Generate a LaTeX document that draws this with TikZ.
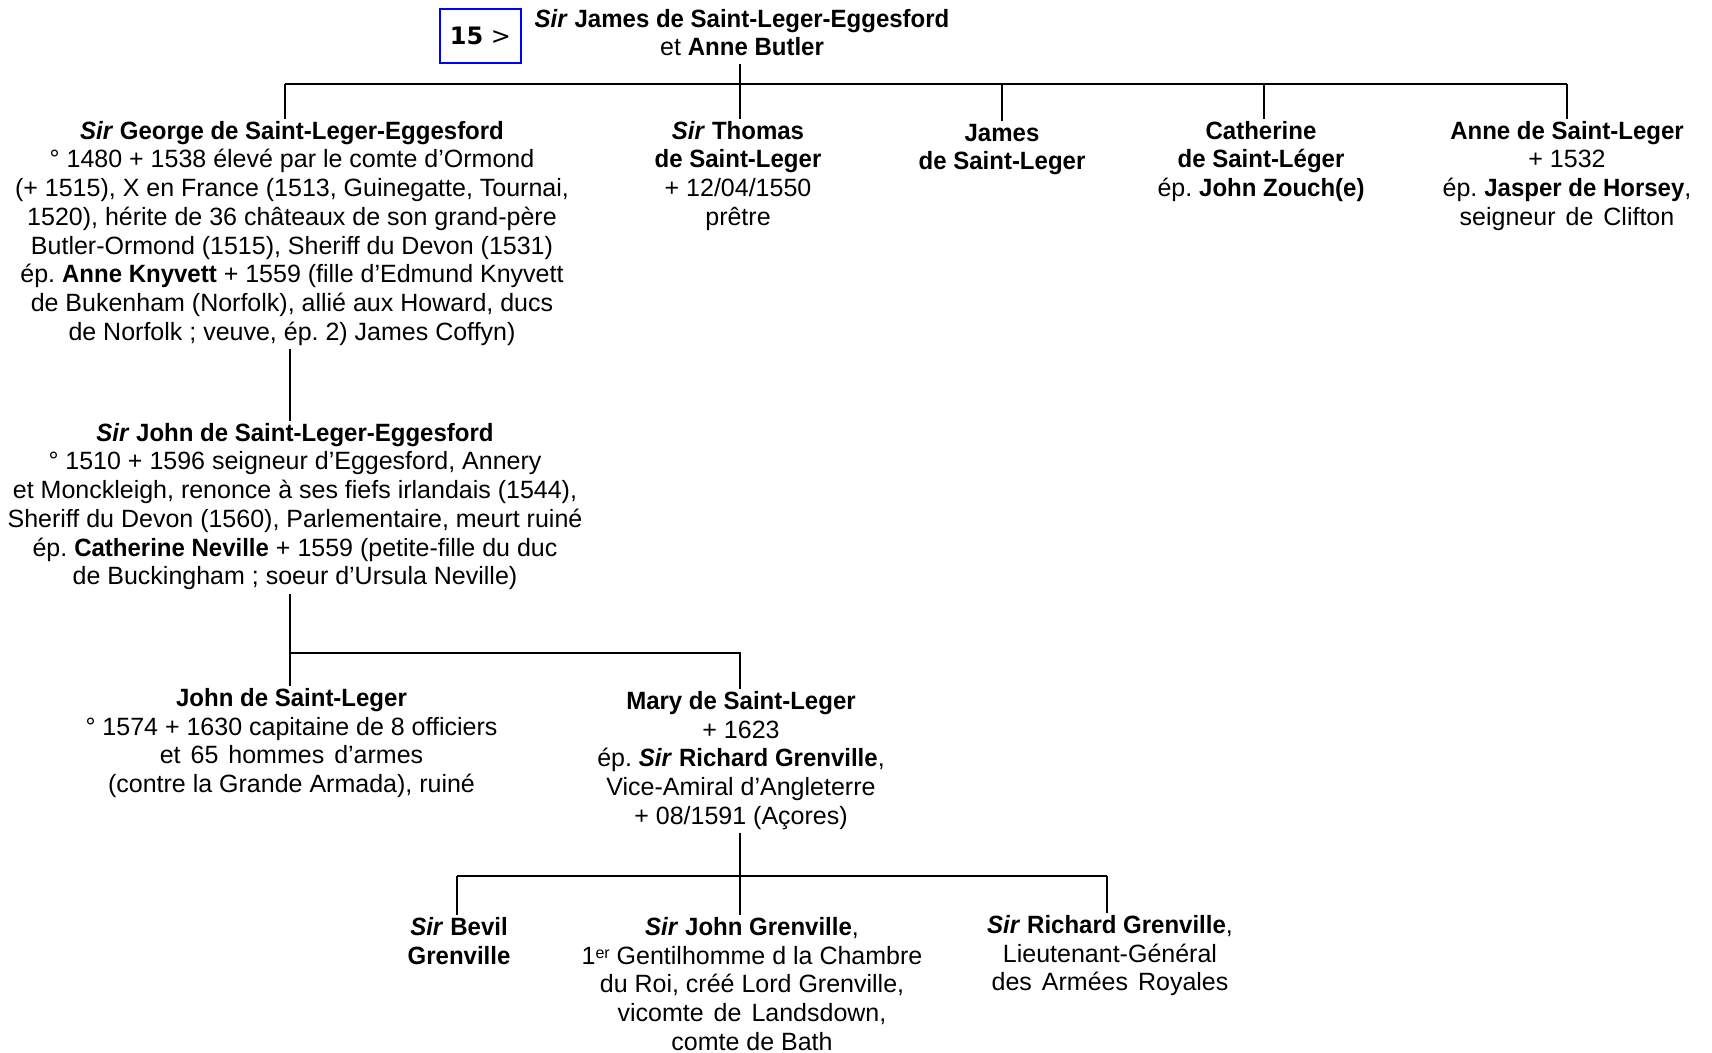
\documentclass[tikz,border=0pt]{standalone}
\usepackage{fontspec}
\setmainfont{Liberation Sans}[BoldFeatures={FakeStretch=0.96},BoldItalicFeatures={FakeStretch=0.96}]
\newfontfamily\boxfont{DejaVu Sans}
\newcommand\sirb{\textbf{\textit{Sir}}}
\newcommand\wsp{\hspace{0.4em}}
\frenchspacing
\begin{document}
\begin{tikzpicture}[x=1pt,y=-1pt,
  txt/.style={anchor=north,align=center,inner sep=0pt,font=\fontsize{25}{28.7}\selectfont},
  conn/.style={line width=2.3pt},
  numbox/.style={draw=blue,line width=2pt,minimum width=81pt,minimum height=54pt,inner sep=0pt,font=\boxfont\fontsize{24}{26}\selectfont}]
\useasboundingbox (0,0) rectangle (1712,1052);

% generation 1
\node[numbox] (num) at (480.5,36) {\textbf{15} >};
\node[txt,font=\fontsize{25}{28}\selectfont] (root) at (742,8) {\strut\sirb\ \textbf{James de Saint-Leger-Eggesford}\\et \textbf{Anne Butler}\strut};

% generation 2
\node[txt] (george) at (292,119) {\strut\textbf{\textit{Sir} George de Saint-Leger-Eggesford}\\
° 1480 + 1538 élevé par le comte d’Ormond\\
(+ 1515), X en France (1513, Guinegatte, Tournai,\\
1520), hérite de 36 châteaux de son grand-père\\
Butler-Ormond (1515), Sheriff du Devon (1531)\\
ép. \textbf{Anne Knyvett} + 1559 (fille d’Edmund Knyvett\\
de Bukenham (Norfolk), allié aux Howard, ducs\\
de Norfolk ; veuve, ép. 2) James Coffyn)\strut};
\node[txt] (thomas) at (738,119) {\strut\sirb\ \textbf{Thomas}\\\textbf{de Saint-Leger}\\+ 12/04/1550\\prêtre\strut};
\node[txt] (james) at (1002,121) {\strut\textbf{James}\\\textbf{de Saint-Leger}\strut};
\node[txt] (catherine) at (1261,119) {\strut\textbf{Catherine}\\\textbf{de Saint-Léger}\\ép. \textbf{John Zouch(e)}\strut};
\node[txt] (anne) at (1567,119) {\strut\textbf{Anne de Saint-Leger}\\+ 1532\\ép. \textbf{Jasper de Horsey},\\seigneur\wsp de\wsp Clifton\strut};

% generation 3
\node[txt] (johnE) at (295,421) {\strut\textbf{\textit{Sir} John de Saint-Leger-Eggesford}\\
° 1510 + 1596 seigneur d’Eggesford, Annery\\
et Monckleigh, renonce à ses fiefs irlandais (1544),\\
Sheriff du Devon (1560), Parlementaire, meurt ruiné\\
ép. \textbf{Catherine Neville} + 1559 (petite-fille du duc\\
de Buckingham ; soeur d’Ursula Neville)\strut};

% generation 4
\node[txt] (johnjr) at (291.5,686) {\strut\textbf{John de Saint-Leger}\\° 1574 + 1630 capitaine de 8 officiers\\et\wsp 65\wsp hommes\wsp d’armes\\(contre la Grande Armada), ruiné\strut};
\node[txt] (mary) at (741,689) {\strut\textbf{Mary de Saint-Leger}\\+ 1623\\ép. \sirb\ \textbf{Richard Grenville},\\Vice-Amiral d’Angleterre\\+ 08/1591 (Açores)\strut};

% generation 5
\node[txt] (bevil) at (459,915) {\strut\sirb\ \textbf{Bevil}\\\textbf{Grenville}\strut};
\node[txt] (johnG) at (752,915) {\strut\sirb\ \textbf{John Grenville},\\1{\fontsize{16}{16}\selectfont\raisebox{6pt}{er}} Gentilhomme d la Chambre\\du Roi, créé Lord Grenville,\\vicomte\wsp de\wsp Landsdown,\\comte de Bath\strut};
\node[txt] (richard) at (1110,913) {\strut\sirb\ \textbf{Richard Grenville},\\Lieutenant-Général\\des\wsp Armées\wsp Royales\strut};

% connectors gen 1 -> 2
\coordinate (r0) at (740,84);
\coordinate (c1) at (285,84);
\coordinate (c2) at (740,84);
\coordinate (c3) at (1002,84);
\coordinate (c4) at (1264,84);
\coordinate (c5) at (1567,84);
\draw[conn] (root.south -| r0) -- (r0);
\draw[conn] (c1) -- (c5);
\draw[conn] (c1) -- (george.north -| c1);
\draw[conn] (c2) -- (thomas.north -| c2);
\draw[conn] (c3) -- (james.north -| c3);
\draw[conn] (c4) -- (catherine.north -| c4);
\draw[conn] (c5) -- (anne.north -| c5);

% gen 2 -> 3
\coordinate (g3) at (290,0);
\draw[conn] (george.south -| g3) -- (johnE.north -| g3);

% gen 3 -> 4
\coordinate (d1) at (290,653);
\coordinate (d2) at (740,653);
\draw[conn] (johnE.south -| d1) -- (d1) -- (d2) -- (mary.north -| d2);
\draw[conn] (d1) -- (johnjr.north -| d1);

% gen 4 -> 5
\coordinate (e1) at (457,876);
\coordinate (e2) at (740,876);
\coordinate (e3) at (1107,876);
\draw[conn] (mary.south -| e2) -- (e2);
\draw[conn] (e1) -- (e3);
\draw[conn] (e1) -- (bevil.north -| e1);
\draw[conn] (e2) -- (johnG.north -| e2);
\draw[conn] (e3) -- (richard.north -| e3);
\end{tikzpicture}
\end{document}
